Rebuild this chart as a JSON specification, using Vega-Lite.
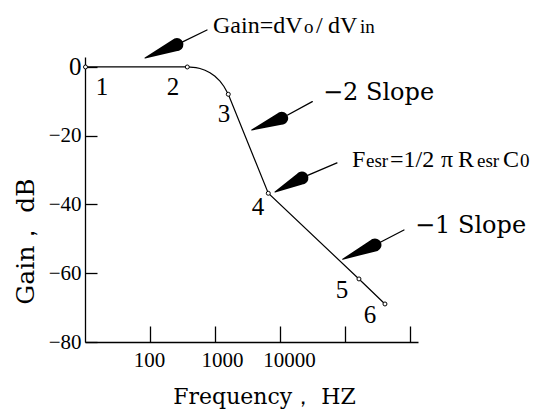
{
  "$schema": "https://vega.github.io/schema/vega-lite/v6.json",
  "width": 333,
  "height": 285,
  "autosize": {"type": "none"},
  "padding": {"left": 85, "top": 57, "right": 119, "bottom": 67},
  "background": "white",
  "config": {"view": {"stroke": null}},
  "datasets": {
    "curve": [
      {"f": 10.18, "g": 0, "s": 1},
      {"f": 374.9, "g": 0, "s": 2},
      {"f": 510, "g": -0.2, "s": 3},
      {"f": 587.7, "g": -0.44, "s": 4},
      {"f": 702, "g": -0.96, "s": 5},
      {"f": 837.6, "g": -1.69, "s": 6},
      {"f": 1000, "g": -2.71, "s": 7},
      {"f": 1194, "g": -4.13, "s": 8},
      {"f": 1375, "g": -5.68, "s": 9},
      {"f": 1602, "g": -7.94, "s": 10},
      {"f": 6607, "g": -36.74, "s": 11},
      {"f": 164200, "g": -61.66, "s": 12},
      {"f": 412500, "g": -68.94, "s": 13}
    ],
    "markers": [
      {"f": 10.18, "g": 0, "label": "1"},
      {"f": 374.9, "g": 0, "label": "2"},
      {"f": 1602, "g": -7.94, "label": "3"},
      {"f": 6607, "g": -36.74, "label": "4"},
      {"f": 164200, "g": -61.66, "label": "5"},
      {"f": 412500, "g": -68.94, "label": "6"}
    ],
    "pointLabels": [
      {"f": 18.26, "g": -8.14, "label": "1"},
      {"f": 225.9, "g": -8.14, "label": "2"},
      {"f": 1375, "g": -16.0, "label": "3"},
      {"f": 4586, "g": -43.05, "label": "4"},
      {"f": 89900, "g": -67.19, "label": "5"},
      {"f": 242400, "g": -74.46, "label": "6"}
    ],
    "arrows": [
      {"arrow": "a1", "seq": 1, "part": "tip", "f": 83.8, "g": 2.62},
      {"arrow": "a1", "seq": 2, "part": "base", "f": 260.2, "g": 6.54},
      {"arrow": "a1", "seq": 3, "part": "neck", "f": 269.7, "g": 6.66},
      {"arrow": "a1", "seq": 4, "part": "tail", "f": 753.3, "g": 10.76},
      {"arrow": "a2", "seq": 1, "part": "tip", "f": 3669, "g": -18.33},
      {"arrow": "a2", "seq": 2, "part": "base", "f": 10621, "g": -14.92},
      {"arrow": "a2", "seq": 3, "part": "neck", "f": 11003, "g": -14.78},
      {"arrow": "a2", "seq": 4, "part": "tail", "f": 31400, "g": -10.09},
      {"arrow": "a3", "seq": 1, "part": "tip", "f": 8376, "g": -36.36},
      {"arrow": "a3", "seq": 2, "part": "base", "f": 21800, "g": -32.29},
      {"arrow": "a3", "seq": 3, "part": "neck", "f": 22580, "g": -32.14},
      {"arrow": "a3", "seq": 4, "part": "tail", "f": 75330, "g": -27.92},
      {"arrow": "a4", "seq": 1, "part": "tip", "f": 92170, "g": -55.93},
      {"arrow": "a4", "seq": 2, "part": "base", "f": 289400, "g": -51.77},
      {"arrow": "a4", "seq": 3, "part": "neck", "f": 299900, "g": -51.63},
      {"arrow": "a4", "seq": 4, "part": "tail", "f": 808500, "g": -47.41}
    ],
    "annMain": [
      {"f": 931.4, "g": 9.89, "text": "Gain=dV"},
      {"f": 36000, "g": 9.89, "text": "/"},
      {"f": 54760, "g": 9.89, "text": "dV"},
      {"f": 128100, "g": -29.09, "text": "F"},
      {"f": 492400, "g": -29.09, "text": "=1/2"},
      {"f": 3000000, "g": -29.09, "text": "π"},
      {"f": 5476000, "g": -29.09, "text": "R"},
      {"f": 26960000, "g": -29.09, "text": "C"}
    ],
    "annSub": [
      {"f": 23400, "g": 9.89, "text": "o"},
      {"f": 170000, "g": 9.89, "text": "in"},
      {"f": 210400, "g": -29.09, "text": "esr"},
      {"f": 10735000, "g": -29.09, "text": "esr"},
      {"f": 49250000, "g": -29.09, "text": "0"}
    ],
    "annSlope": [
      {"f": 45860, "g": -9.6, "text": "−2 Slope"},
      {"f": 1194000, "g": -48.28, "text": "−1 Slope"}
    ]
  },
  "encoding": {
    "x": {
      "field": "f",
      "type": "quantitative",
      "scale": {"type": "log", "domain": [10, 1330000], "nice": false},
      "axis": {
        "values": [100, 1000, 10000, 100000, 1000000],
        "labelExpr": "datum.value <= 10000 ? format(datum.value, 'd') : ''",
        "labelOverlap": false,
        "labelFlush": false,
        "labelFont": "Liberation Serif",
        "labelFontSize": 21,
        "labelColor": "black",
        "labelPadding": 23,
        "labelOffset": {"condition": [{"test": "datum.value == 1000", "value": 7}, {"test": "datum.value == 10000", "value": 9}], "value": -1},
        "tickSize": -16,
        "tickColor": "black",
        "tickWidth": 1.3,
        "domainColor": "black",
        "domainWidth": 1.3,
        "grid": false,
        "title": "Frequency， HZ",
        "titleFont": "DejaVu Serif",
        "titleFontSize": 22,
        "titleFontWeight": "normal",
        "titleColor": "black",
        "titleX": 179,
        "titleY": 61,
        "titleAlign": "center",
        "titleBaseline": "alphabetic"
      }
    },
    "y": {
      "field": "g",
      "type": "quantitative",
      "scale": {"domain": [-80, 2.9], "nice": false, "zero": false},
      "axis": {
        "values": [0, -20, -40, -60, -80],
        "labelExpr": "datum.value == 0 ? '0' : '−' + abs(datum.value)",
        "labelFont": "Liberation Serif",
        "labelFontSize": {"condition": {"test": "datum.value == 0", "value": 25}, "value": 21},
        "labelColor": "black",
        "labelPadding": 16,
        "tickSize": -12,
        "tickColor": "black",
        "tickWidth": 1.3,
        "domainColor": "black",
        "domainWidth": 1.3,
        "grid": false,
        "title": "Gain， dB",
        "titleFont": "DejaVu Serif",
        "titleFontSize": 25,
        "titleFontWeight": "normal",
        "titleColor": "black",
        "titleAngle": -90,
        "titleX": -52,
        "titleY": 184,
        "titleAlign": "center",
        "titleBaseline": "alphabetic"
      }
    }
  },
  "layer": [
    {
      "data": {"name": "curve"},
      "mark": {"type": "line", "color": "black", "strokeWidth": 1.2},
      "encoding": {"order": {"field": "s", "type": "quantitative"}}
    },
    {
      "data": {"name": "markers"},
      "mark": {"type": "point", "filled": true, "fill": "white", "stroke": "black", "strokeWidth": 1, "size": 16, "opacity": 1}
    },
    {
      "data": {"name": "arrows"},
      "mark": {"type": "trail", "color": "black"},
      "encoding": {
        "detail": {"field": "arrow", "type": "nominal"},
        "order": {"field": "seq", "type": "quantitative"},
        "size": {
          "field": "part",
          "type": "ordinal",
          "scale": {"type": "ordinal", "domain": ["tip", "base", "neck", "tail"], "range": [0, 13, 1.3, 1.3]},
          "legend": null
        }
      }
    },
    {
      "data": {"name": "pointLabels"},
      "mark": {"type": "text", "font": "Liberation Serif", "fontSize": 25, "align": "center", "baseline": "alphabetic", "color": "black"},
      "encoding": {"text": {"field": "label"}}
    },
    {
      "data": {"name": "annMain"},
      "mark": {"type": "text", "font": "Liberation Serif", "fontSize": 24, "align": "left", "baseline": "alphabetic", "color": "black"},
      "encoding": {"text": {"field": "text"}}
    },
    {
      "data": {"name": "annSub"},
      "mark": {"type": "text", "font": "Liberation Serif", "fontSize": 19, "align": "left", "baseline": "alphabetic", "color": "black"},
      "encoding": {"text": {"field": "text"}}
    },
    {
      "data": {"name": "annSlope"},
      "mark": {"type": "text", "font": "DejaVu Serif", "fontSize": 24, "align": "left", "baseline": "alphabetic", "color": "black"},
      "encoding": {"text": {"field": "text"}}
    }
  ]
}
